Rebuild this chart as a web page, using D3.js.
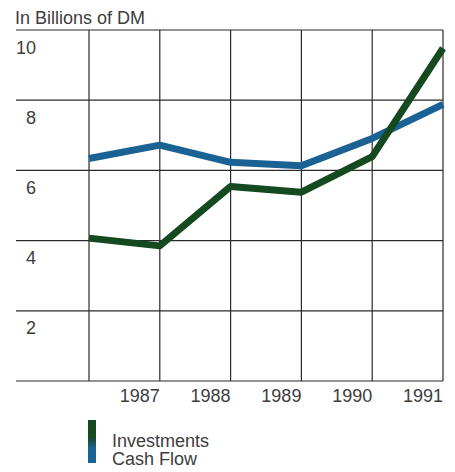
<!DOCTYPE html>
<html>
<head>
<meta charset="utf-8">
<script src="https://cdn.jsdelivr.net/npm/d3@7"></script>
<style>
  html, body { margin: 0; padding: 0; background: #fff; }
  svg { display: block; }
  text { font-family: "Liberation Sans", Arial, Helvetica, sans-serif; fill: #3d3d3d; }
</style>
</head>
<body>
<svg id="chart" width="455" height="472"></svg>
<script>
// Years along the x axis (gridline per year; the first one carries no label)
const years = [1986, 1987, 1988, 1989, 1990, 1991];
const yearLabels = [1987, 1988, 1989, 1990, 1991];

// Values in billions of DM
const investments = [4.07, 3.85, 5.54, 5.38, 6.39, 9.48];
const cashFlow = [6.34, 6.72, 6.23, 6.13, 6.91, 7.88];

const valueTicks = [0, 2, 4, 6, 8, 10];
const valueLabels = [2, 4, 6, 8, 10];

const seriesNames = ["Investments", "Cash Flow"];
const seriesColors = ["#15491f", "#1b6294"];

const svg = d3.select("#chart");

const x = d3.scaleLinear().domain([1986, 1991]).range([89, 443]);
const y = d3.scaleLinear().domain([0, 10]).range([381, 30]);
const gridLeft = 16;

// Title
svg.append("text")
  .attr("x", 15).attr("y", 24)
  .attr("font-size", 18)
  .text("In Billions of DM");

// Horizontal gridlines
svg.append("g")
  .selectAll("line")
  .data(valueTicks)
  .join("line")
  .attr("x1", gridLeft).attr("x2", x(1991))
  .attr("y1", d => y(d)).attr("y2", d => y(d))
  .attr("stroke", "#2a2a2a").attr("stroke-width", 1.2);

// Vertical gridlines
svg.append("g")
  .selectAll("line")
  .data(years)
  .join("line")
  .attr("x1", d => x(d)).attr("x2", d => x(d))
  .attr("y1", y(10)).attr("y2", y(0))
  .attr("stroke", "#2a2a2a").attr("stroke-width", 1.2);

// Value labels sit just below their gridline
svg.append("g")
  .selectAll("text")
  .data(valueLabels)
  .join("text")
  .attr("x", 36)
  .attr("y", d => y(d) + 23.5)
  .attr("text-anchor", "end")
  .attr("font-size", 18)
  .text(d => d);

// Year labels, right-aligned to their gridline
svg.append("g")
  .selectAll("text")
  .data(yearLabels)
  .join("text")
  .attr("x", d => x(d))
  .attr("y", y(0) + 21)
  .attr("text-anchor", "end")
  .attr("font-size", 18)
  .text(d => d);

// Series lines (cash flow drawn first, investments on top)
const line = d3.line()
  .x((d, i) => x(years[i]))
  .y(d => y(d));

[[cashFlow, seriesColors[1]], [investments, seriesColors[0]]].forEach(([vals, col]) => {
  svg.append("path")
    .datum(vals)
    .attr("d", line)
    .attr("fill", "none")
    .attr("stroke", col)
    .attr("stroke-width", 7)
    .attr("stroke-linejoin", "round")
    .attr("stroke-linecap", "butt");
});

// Legend: one bar shading from investments colour into cash flow colour
const defs = svg.append("defs");
const grad = defs.append("linearGradient")
  .attr("id", "legendGrad")
  .attr("x1", 0).attr("y1", 0).attr("x2", 0).attr("y2", 1);
grad.append("stop").attr("offset", "0%").attr("stop-color", seriesColors[0]);
grad.append("stop").attr("offset", "40%").attr("stop-color", seriesColors[0]);
grad.append("stop").attr("offset", "65%").attr("stop-color", seriesColors[1]);
grad.append("stop").attr("offset", "100%").attr("stop-color", seriesColors[1]);

svg.append("rect")
  .attr("x", 88).attr("y", 420)
  .attr("width", 8).attr("height", 43)
  .attr("fill", "url(#legendGrad)");

svg.append("g")
  .selectAll("text")
  .data(seriesNames)
  .join("text")
  .attr("x", 112)
  .attr("y", (d, i) => 446.5 + i * 18.5)
  .attr("font-size", 18)
  .text(d => d);
</script>
</body>
</html>
